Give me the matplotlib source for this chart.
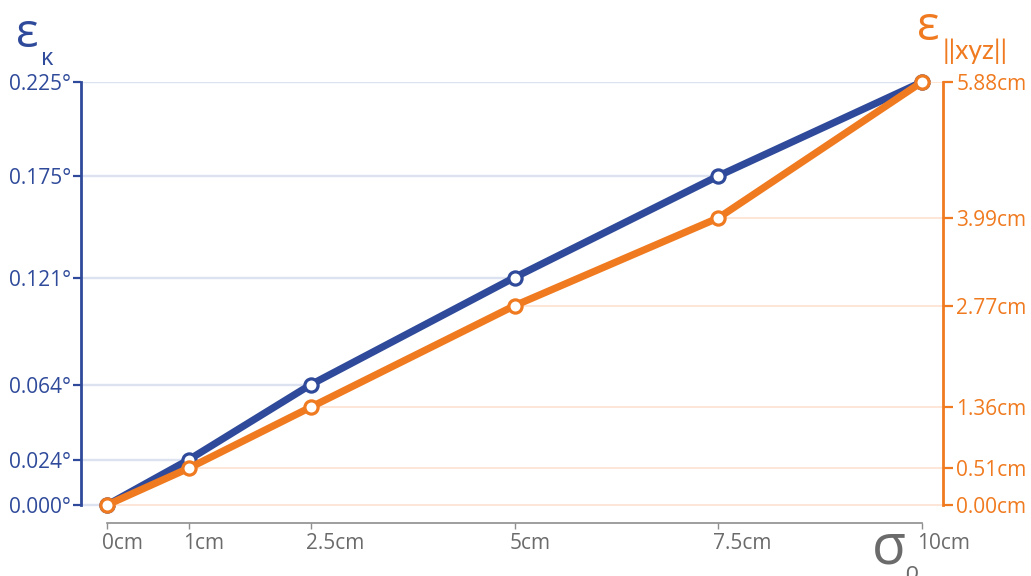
import matplotlib
matplotlib.use('Agg')
import matplotlib.pyplot as plt
from matplotlib.transforms import ScaledTranslation

# ---- data ----
x_cm = [0, 1, 2.5, 5, 7.5, 10]
x_labels = ['0cm', '1cm', '2.5cm', '5cm', '7.5cm', '10cm']
err_kappa = [0.000, 0.024, 0.064, 0.121, 0.175, 0.225]   # degrees
err_xyz = [0.00, 0.51, 1.36, 2.77, 3.99, 5.88]            # cm

BLUE = '#2f4a9a'
ORANGE = '#f07a1f'
GRAY = '#6b6b6b'
AXGRAY = '#8e8e8e'

plt.rcParams['font.family'] = ['Open Sans', 'DejaVu Sans']

W, H = 1031, 576
fig = plt.figure(figsize=(W / 100, H / 100), dpi=100)
# axes box in pixels: left 81, right 943, top 82, bottom 523
ax = fig.add_axes([81 / W, (H - 523) / H, (943 - 81) / W, (523 - 82) / H])
ax2 = ax.twinx()

# x range: 0 -> px 107, 10 -> px 922
ppu = (922 - 107) / 10
xmin = -(107 - 81) / ppu
xmax = 10 + (943 - 922) / ppu
ax.set_xlim(xmin, xmax)

frac0 = 18 / 441  # zero sits 18px above axes bottom
ax.set_ylim(-err_kappa[-1] * frac0 / (1 - frac0), err_kappa[-1])
ax2.set_ylim(-err_xyz[-1] * frac0 / (1 - frac0), err_xyz[-1])

# leader lines
ax.hlines(err_kappa, xmin, x_cm, color='#dde2f0', lw=1.7, zorder=1)
ax2.hlines(err_xyz, x_cm, xmax, color='#fde4d3', lw=1.3, zorder=1)

# series
ax.plot(x_cm, err_kappa, color=BLUE, lw=5.2, marker='o', ms=9.5,
        mfc='white', mec=BLUE, mew=2.3, clip_on=False, zorder=3)
ax2.plot(x_cm, err_xyz, color=ORANGE, lw=5.2, marker='o', ms=9.5,
         mfc='white', mec=ORANGE, mew=2.3, clip_on=False, zorder=3)

# spines
for s in ['top', 'right']:
    ax.spines[s].set_visible(False)
for s in ['top', 'left', 'bottom']:
    ax2.spines[s].set_visible(False)
ax.spines['left'].set_bounds(0, err_kappa[-1])
ax.spines['left'].set_color(BLUE)
ax.spines['left'].set_linewidth(2.0)
ax2.spines['right'].set_bounds(0, err_xyz[-1])
ax2.spines['right'].set_color(ORANGE)
ax2.spines['right'].set_linewidth(2.0)
ax.spines['bottom'].set_bounds(x_cm[0], x_cm[-1])
ax.spines['bottom'].set_color(AXGRAY)
ax.spines['bottom'].set_linewidth(1.2)

# ticks
ax.set_yticks(err_kappa)
ax.set_yticklabels([f'{v:.3f}°' for v in err_kappa])
ax.tick_params(axis='y', colors=BLUE, length=6, width=1.6, pad=1, labelsize=15)
ax2.set_yticks(err_xyz)
ax2.set_yticklabels([f'{v:.2f}cm' for v in err_xyz])
ax2.tick_params(axis='y', colors=ORANGE, length=7.5, width=1.6, pad=2, labelsize=15)

ax.set_xticks(x_cm)
ax.set_xticklabels(x_labels, ha='left')
ax.tick_params(axis='x', colors=AXGRAY, labelcolor=GRAY, length=4, width=1,
               pad=3, labelsize=15)
off = ScaledTranslation(-5 / 100, 0, fig.dpi_scale_trans)
for lab in ax.get_xticklabels():
    lab.set_transform(lab.get_transform() + off)

# axis titles
def ftext(px, py, s, **kw):
    fig.text(px / W, 1 - py / H, s, va='baseline', ha='left', **kw)

ftext(16, 47, 'ε', color=BLUE, fontsize=34)
ftext(41, 65, 'κ', color=BLUE, fontsize=17)
ftext(917, 40, 'ε', color=ORANGE, fontsize=34)
ftext(943, 59, '||xyz||', color=ORANGE, fontsize=19,
      family=['Lato', 'DejaVu Sans'])
ftext(872, 563, 'σ', color=GRAY, fontsize=40)
ftext(904, 579, 'ρ', color=GRAY, fontsize=17)

fig.savefig('out.png', dpi=100)
